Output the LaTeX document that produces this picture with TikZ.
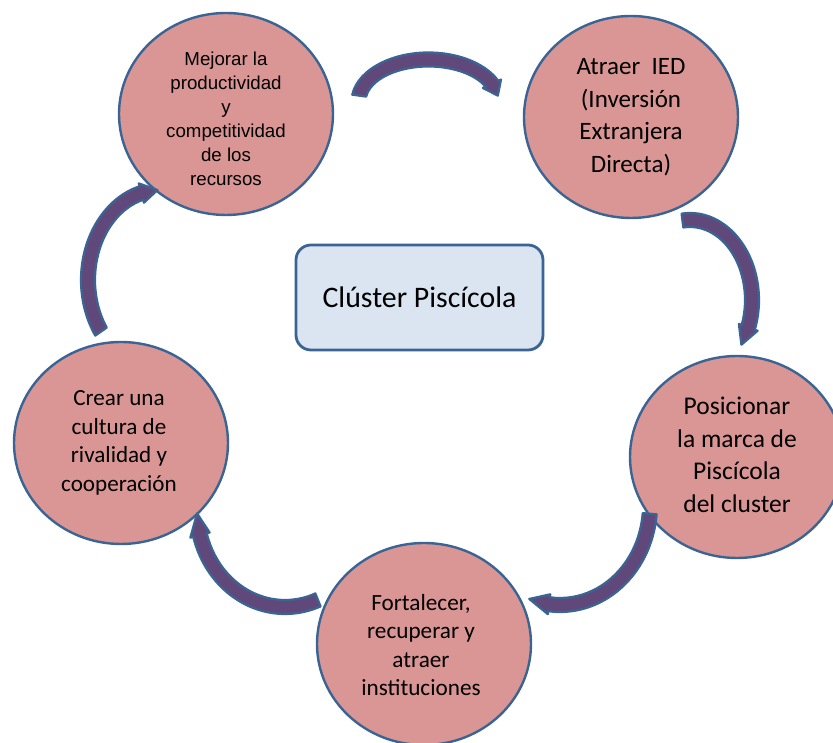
\documentclass[tikz,border=0pt]{standalone}
\usepackage{fontspec}
\setmainfont{Carlito}
\newfontfamily\arialfont{Liberation Sans}
\usetikzlibrary{shapes.geometric,calc}

\definecolor{bubfill}{HTML}{D99694}
\definecolor{edgeblue}{HTML}{3A6494}
\definecolor{arrowfill}{HTML}{60497A}
\definecolor{hubfill}{HTML}{DBE5F1}

\tikzset{
  bub/.style={ellipse, draw=edgeblue, fill=bubfill, line width=2.4pt,
    minimum width=214pt, minimum height=202pt, inner sep=0pt},
  bubtext/.style={align=center, inner sep=0pt, text=black},
  hub/.style={draw=edgeblue, fill=hubfill, line width=2.8pt, rounded corners=15pt,
    minimum width=247pt, minimum height=105pt, inner sep=0pt,
    font=\fontsize{29.8}{36}\selectfont},
  flowarrow/.style={draw=edgeblue, fill=arrowfill, line width=2.2pt, line join=round}
}

% Curved block arrow along an elliptic arc:
% #1 centre, #2/#3 radii of the middle line, #4 tail angle, #5 angle where the head starts,
% #6 angle of the tip, #7 half width of the body, #8 flare of the head
\newcommand{\bentarrow}[8]{%
  \pgfmathsetmacro\baOx{#2+#7}\pgfmathsetmacro\baOy{#3+#7}%
  \pgfmathsetmacro\baIx{#2-#7}\pgfmathsetmacro\baIy{#3-#7}%
  \pgfmathsetmacro\baFx{#2+#7+#8}\pgfmathsetmacro\baFy{#3+#7+#8}%
  \pgfmathsetmacro\baGx{#2-#7-#8}\pgfmathsetmacro\baGy{#3-#7-#8}%
  \path[flowarrow]
    ($(#1)+(#4:\baOx pt and \baOy pt)$)
      arc[start angle=#4, end angle=#5, x radius=\baOx pt, y radius=\baOy pt]
    -- ($(#1)+(#5:\baFx pt and \baFy pt)$)
    -- ($(#1)+(#6:#2 pt and #3 pt)$)
    -- ($(#1)+(#5:\baGx pt and \baGy pt)$)
    -- ($(#1)+(#5:\baIx pt and \baIy pt)$)
      arc[start angle=#5, end angle=#4, x radius=\baIx pt, y radius=\baIy pt]
    -- cycle;%
}

\begin{document}
\begin{tikzpicture}[x=1pt, y=1pt]
\useasboundingbox (0,0) rectangle (833,743);

% centre of the cycle
\node[hub] (hub) at (419.5,445.5) {Clúster Piscícola};

% the five stages
\node[bub] (mej) at (226,629) {};
\node[bub] (atr) at (631,626) {};
\node[bub] (pos) at (737,286) {};
\node[bub] (fort) at (424,99) {};
\node[bub] (crear) at (121,300) {};

\node[bubtext, font=\arialfont\fontsize{18.7}{24}\selectfont] (mejt) at ($(mej)+(0,-5)$)
  {Mejorar la\\productividad\\y\\competitividad\\de los\\recursos};
\node[bubtext, font=\fontsize{25}{32.5}\selectfont] (atrt) at (atr)
  {Atraer~ IED\\(Inversión\\Extranjera\\Directa)};
\node[bubtext, font=\fontsize{25.5}{32.5}\selectfont] (post) at ($(pos)+(0,2)$)
  {Posicionar\\la marca de\\Piscícola\\del cluster};
\node[bubtext, font=\fontsize{23.2}{28.5}\selectfont] (fortt) at ($(fort)+(-3,-1)$)
  {Fortalecer,\\recuperar y\\atraer\\instituciones};
\node[bubtext, font=\fontsize{23.1}{28.5}\selectfont] (creart) at ($(crear)+(-2,0)$)
  {Crear una\\cultura de\\rivalidad y\\cooperación};

% centres of the connecting arcs
\coordinate (c1) at ($(mej)!0.5!(atr)+(0,14)$);
\coordinate (c2) at ($(atr)+(59,-183)$);
\coordinate (c3) at ($(pos)+(-177,-48)$);
\coordinate (c4) at ($(crear)+(164,-67)$);
\coordinate (c5) at ($(crear)+(39,163)$);

\bentarrow{c1}{70}{42}{172}{25}{8}{7}{3}
\bentarrow{c2}{62}{80}{97}{-20}{-34}{7}{3}
\bentarrow{c3}{90}{100}{-5}{-97}{-110}{7}{3}
\bentarrow{c4}{88}{97}{-68}{-165}{-178}{7}{3}
\bentarrow{c5}{72}{90}{215}{105}{92}{7}{3}
\end{tikzpicture}
\end{document}
